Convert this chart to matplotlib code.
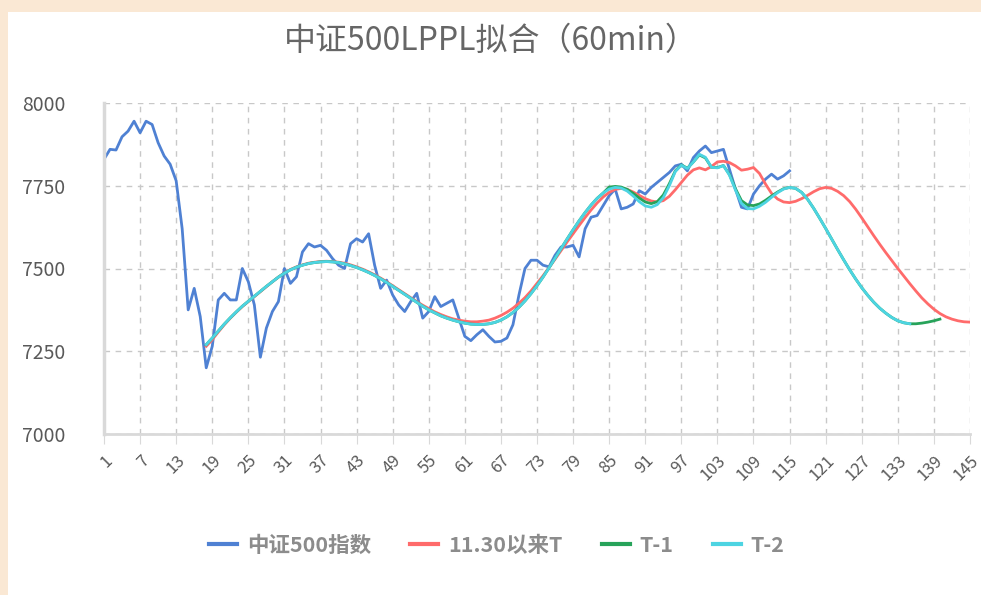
import numpy as np
import matplotlib
matplotlib.use("Agg")
from matplotlib import pyplot as plt
from matplotlib.patches import Rectangle

plt.rcParams['font.family'] = ['Noto Sans CJK SC', 'DejaVu Sans']

#中证500指数, points 1..115
csi500 = [7830, 7860, 7858, 7898, 7915, 7945, 7910, 7945, 7935, 7880,
          7840, 7815, 7765, 7620, 7375, 7440, 7355, 7200, 7265, 7405,
          7425, 7405, 7405, 7500, 7460, 7390, 7232, 7320, 7370, 7400,
          7500, 7455, 7475, 7550, 7575, 7565, 7570, 7555, 7530, 7510,
          7500, 7575, 7590, 7580, 7605, 7510, 7440, 7465, 7420, 7390,
          7370, 7400, 7425, 7350, 7370, 7415, 7385, 7395, 7405, 7350,
          7295, 7282, 7300, 7315, 7295, 7278, 7280, 7290, 7330, 7420,
          7500, 7525, 7525, 7510, 7505, 7540, 7565, 7565, 7570, 7535,
          7620, 7655, 7660, 7690, 7720, 7740, 7680, 7685, 7695, 7735,
          7725, 7745, 7760, 7775, 7790, 7810, 7815, 7795, 7835, 7855,
          7870, 7850, 7855, 7860, 7800, 7740, 7685, 7680, 7725, 7750,
          7770, 7785, 7770, 7780, 7795]

#11.30以来T, points 18..145
fit_1130 = [7265, 7285, 7308, 7330, 7350, 7368, 7385, 7400, 7415, 7430,
            7445, 7460, 7474, 7487, 7497, 7505, 7511, 7516, 7519, 7521,
            7522, 7521, 7519, 7516, 7511, 7505, 7498, 7490, 7481, 7471,
            7460, 7448, 7436, 7424, 7412, 7400, 7389, 7379, 7369, 7361,
            7354, 7348, 7344, 7341, 7339, 7339, 7341, 7344, 7350, 7358,
            7368, 7380, 7395, 7412, 7432, 7455, 7478, 7503, 7528, 7554,
            7580, 7605, 7630, 7654, 7677, 7698, 7716, 7730, 7739, 7742,
            7739, 7731, 7721, 7711, 7704, 7701, 7705, 7718, 7738, 7760,
            7782, 7798, 7804, 7798, 7808, 7822, 7824, 7820, 7810, 7797,
            7800, 7805, 7787, 7755, 7727, 7710, 7701, 7699, 7703, 7711,
            7721, 7732, 7741, 7745, 7742, 7733, 7720, 7702, 7679, 7653,
            7626, 7599, 7573, 7548, 7524, 7500, 7477, 7454, 7432, 7411,
            7393, 7377, 7364, 7354, 7347, 7342, 7339, 7338]

#T-1, points 18..140
fit_t1 = [7270, 7290, 7311, 7332, 7351, 7369, 7386, 7401, 7416, 7431,
          7446, 7460, 7474, 7486, 7496, 7504, 7510, 7515, 7518, 7520,
          7521, 7520, 7518, 7514, 7509, 7503, 7496, 7488, 7479, 7469,
          7458, 7446, 7434, 7422, 7410, 7398, 7386, 7375, 7366, 7357,
          7350, 7344, 7339, 7335, 7332, 7331, 7331, 7333, 7337, 7344,
          7354, 7367, 7383, 7402, 7424, 7448, 7474, 7502, 7531, 7560,
          7589, 7617, 7644, 7669, 7692, 7712, 7728, 7746, 7748, 7746,
          7739, 7727, 7713, 7701, 7696, 7702, 7722, 7756, 7795, 7813,
          7803, 7822, 7843, 7834, 7806, 7805, 7811, 7784, 7741, 7705,
          7692, 7690, 7695, 7706, 7719, 7731, 7741, 7745, 7742, 7730,
          7709, 7682, 7652, 7621, 7589, 7557, 7526, 7496, 7468, 7442,
          7419, 7398, 7380, 7365, 7352, 7342, 7336, 7333, 7333, 7335,
          7338, 7342, 7347]

#T-2, points 18..135
fit_t2 = [7270, 7290, 7311, 7332, 7351, 7369, 7386, 7401, 7416, 7431,
          7446, 7460, 7474, 7486, 7496, 7504, 7510, 7515, 7518, 7520,
          7521, 7520, 7518, 7514, 7509, 7503, 7496, 7488, 7479, 7469,
          7458, 7446, 7434, 7422, 7410, 7398, 7386, 7375, 7366, 7357,
          7350, 7344, 7339, 7335, 7332, 7331, 7331, 7333, 7337, 7344,
          7354, 7367, 7383, 7402, 7424, 7448, 7474, 7502, 7531, 7560,
          7589, 7617, 7644, 7669, 7692, 7712, 7728, 7740, 7745, 7743,
          7734, 7719, 7702, 7689, 7685, 7693, 7714, 7750, 7793, 7812,
          7802, 7822, 7845, 7836, 7806, 7804, 7811, 7782, 7737, 7697,
          7681, 7680, 7688, 7700, 7715, 7729, 7740, 7745, 7742, 7730,
          7709, 7682, 7652, 7621, 7589, 7557, 7526, 7496, 7468, 7442,
          7419, 7398, 7380, 7365, 7352, 7342, 7336, 7333]

fit_start = 18
n_points = 145
xtick_labels = [str(i) for i in range(1, n_points + 1, 6)]
yticks = [7000, 7250, 7500, 7750, 8000]

fig = plt.figure(figsize=(9.81, 5.95), dpi=100, facecolor='#FAE8D4')
fig.patches.append(Rectangle((8 / 981, 0), 1, 1 - 12 / 595, transform=fig.transFigure,
                             facecolor='white', edgecolor='none', zorder=-1))
ax = fig.add_axes([104 / 981, 1 - 434 / 595, (970 - 104) / 981, (434 - 103) / 595])
ax.set_facecolor('white')

ax.plot(range(1, len(csi500) + 1), csi500, color='#4F81D3', lw=2.0, label='中证500指数')
ax.plot(range(fit_start, fit_start + len(fit_1130)), fit_1130, color='#FF6B6B', lw=2.0, label='11.30以来T')
ax.plot(range(fit_start, fit_start + len(fit_t1)), fit_t1, color='#27A35A', lw=2.0, label='T-1')
ax.plot(range(fit_start, fit_start + len(fit_t2)), fit_t2, color='#4DD4E2', lw=2.0, label='T-2')

ax.set_xlim(1, n_points)
ax.set_ylim(7000, 8000)
ax.set_yticks(yticks)
ax.set_yticklabels([str(v) for v in yticks], fontsize=14, color='#595959')
ax.set_xticks(range(1, n_points + 1, 6))
ax.set_xticklabels(xtick_labels, fontsize=12, color='#595959', rotation=45,
                   ha='right', va='top', rotation_mode='anchor')
ax.tick_params(axis='x', length=7, color='#D9D9D9', pad=6)
# y labels are left-aligned at x~22px, pad is in points
ax.tick_params(axis='y', length=0, pad=59)
for lab in ax.get_yticklabels():
    lab.set_horizontalalignment('left')

ax.grid(True, color='#C8C8C8', linestyle=(0, (4, 4)), lw=1.0)
ax.set_axisbelow(True)
for s in ['top', 'right']:
    ax.spines[s].set_visible(False)
ax.spines['left'].set_color('#D9D9D9')
ax.spines['left'].set_linewidth(2.5)
ax.spines['bottom'].set_color('#D9D9D9')
ax.spines['bottom'].set_linewidth(2.0)

fig.text(0.5, 1 - 41 / 595, '中证500LPPL拟合（60min）', ha='center', va='center',
         fontsize=23, color='#666666', fontweight='light')

leg = fig.legend(loc='center', bbox_to_anchor=(497 / 981, 1 - 545 / 595), ncol=4,
                 frameon=False, handlelength=1.3, columnspacing=1.8, handletextpad=0.47,
                 prop={'size': 15.5, 'weight': 'bold'})
for t in leg.get_texts():
    t.set_color('#8C8C8C')
for h in leg.get_lines():
    h.set_linewidth(3.0)

fig.savefig('out.png', dpi=100, facecolor=fig.get_facecolor())
